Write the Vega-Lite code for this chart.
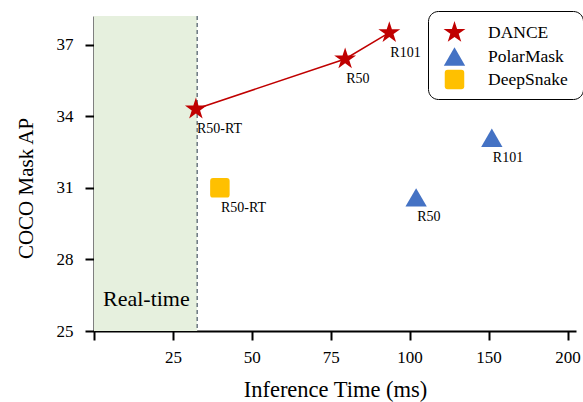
{
  "$schema": "https://vega.github.io/schema/vega-lite/v6.json",
  "width": 482,
  "height": 315,
  "autosize": {"type": "none"},
  "padding": {"left": 94, "top": 16, "right": 7, "bottom": 71},
  "config": {
    "font": "Liberation Serif",
    "view": {"stroke": null},
    "axis": {
      "grid": false,
      "domainColor": "black",
      "domainWidth": 2,
      "tickColor": "black",
      "tickWidth": 2,
      "tickSize": 9,
      "labelFontSize": 17,
      "labelColor": "black",
      "labelFlush": false,
      "labelOverlap": false,
      "titleFontSize": 21,
      "titleFontWeight": "normal",
      "titleColor": "black"
    }
  },
  "datasets": {
    "pts": [
      {"method": "DANCE", "backbone": "R50-RT", "time": 32.3, "ap": 34.3},
      {"method": "DANCE", "backbone": "R50", "time": 79.6, "ap": 36.4},
      {"method": "DANCE", "backbone": "R101", "time": 93.6, "ap": 37.5},
      {"method": "PolarMask", "backbone": "R50", "time": 104.2, "ap": 30.6},
      {"method": "PolarMask", "backbone": "R101", "time": 152.1, "ap": 33.1},
      {"method": "DeepSnake", "backbone": "R50-RT", "time": 39.9, "ap": 31.0}
    ],
    "region": [
      {"start": 0, "end": 32.7, "label": "Real-time"}
    ]
  },
  "layer": [
    {
      "data": {"name": "region"},
      "mark": {"type": "rect", "color": "#e6f0de"},
      "encoding": {
        "x": {"field": "start", "type": "quantitative"},
        "x2": {"field": "end"}
      }
    },
    {
      "data": {"name": "region"},
      "mark": {"type": "rule", "color": "#4a5866", "strokeWidth": 1.2, "strokeDash": [4, 3]},
      "encoding": {
        "x": {"field": "end", "type": "quantitative"}
      }
    },
    {
      "data": {"name": "region"},
      "mark": {"type": "text", "align": "left", "baseline": "alphabetic", "dx": 9, "dy": -25, "fontSize": 22, "color": "black"},
      "encoding": {
        "x": {"field": "start", "type": "quantitative"},
        "y": {"datum": 25, "type": "quantitative"},
        "text": {"field": "label"}
      }
    },
    {
      "data": {"name": "pts"},
      "transform": [{"filter": "datum.method == 'DANCE'"}],
      "mark": {"type": "line", "color": "#c00000", "strokeWidth": 1.5},
      "encoding": {
        "x": {"field": "time", "type": "quantitative"},
        "y": {"field": "ap", "type": "quantitative"},
        "order": {"field": "time"}
      }
    },
    {
      "data": {"name": "pts"},
      "mark": {"type": "point", "filled": true, "opacity": 1, "strokeWidth": 0},
      "encoding": {
        "x": {
          "field": "time",
          "type": "quantitative",
          "scale": {"domain": [0, 100, 200, 205], "range": [0, 315.5, 473.5, 482], "zero": false, "nice": false},
          "axis": {
            "title": "Inference Time (ms)",
            "titleFontSize": 22.5,
            "values": [0, 25, 50, 75, 100, 150, 200],
            "labelExpr": "datum.value == 0 ? '' : datum.label",
            "labelPadding": 9,
            "titlePadding": 13
          }
        },
        "y": {
          "field": "ap",
          "type": "quantitative",
          "scale": {"domain": [25, 38.2], "zero": false, "nice": false},
          "axis": {
            "title": "COCO Mask AP",
            "values": [25, 28, 31, 34, 37],
            "labelPadding": 12,
            "titlePadding": 20,
            "titleY": 172
          }
        },
        "color": {
          "field": "method",
          "type": "nominal",
          "scale": {"domain": ["DANCE", "PolarMask", "DeepSnake"], "range": ["#c00000", "#4472c4", "#ffc000"]},
          "legend": {
            "title": "\u00a0",
            "titleOrient": "right",
            "titlePadding": 6,
            "titleFontSize": 17.5,
            "orient": "none",
            "legendX": 334,
            "legendY": -5,
            "strokeColor": "black",
            "cornerRadius": 10,
            "fillColor": "white",
            "padding": 9,
            "symbolOffset": 5,
            "labelOffset": 21,
            "labelFontSize": 17.5,
            "labelColor": "black",
            "rowPadding": 3,
            "encode": {"legend": {"update": {"strokeWidth": {"value": 1.5}}}}
          }
        },
        "shape": {
          "field": "method",
          "type": "nominal",
          "scale": {
            "domain": ["DANCE", "PolarMask", "DeepSnake"],
            "range": [
              "M0,-1L0.2245,-0.309L0.9511,-0.309L0.3633,0.118L0.5878,0.809L0,0.382L-0.5878,0.809L-0.3633,0.118L-0.9511,-0.309L-0.2245,-0.309Z",
              "triangle-up",
              "M-1,-0.7Q-1,-1,-0.7,-1L0.7,-1Q1,-1,1,-0.7L1,0.7Q1,1,0.7,1L-0.7,1Q-1,1,-1,0.7Z"
            ]
          }
        },
        "size": {
          "field": "method",
          "type": "nominal",
          "scale": {"domain": ["DANCE", "PolarMask", "DeepSnake"], "range": [530, 380, 350]}
        }
      }
    },
    {
      "data": {"name": "pts"},
      "mark": {"type": "text", "align": "left", "baseline": "middle", "dx": 1, "dy": 20, "fontSize": 14, "color": "black"},
      "encoding": {
        "x": {"field": "time", "type": "quantitative"},
        "y": {"field": "ap", "type": "quantitative"},
        "text": {"field": "backbone"}
      }
    }
  ]
}
